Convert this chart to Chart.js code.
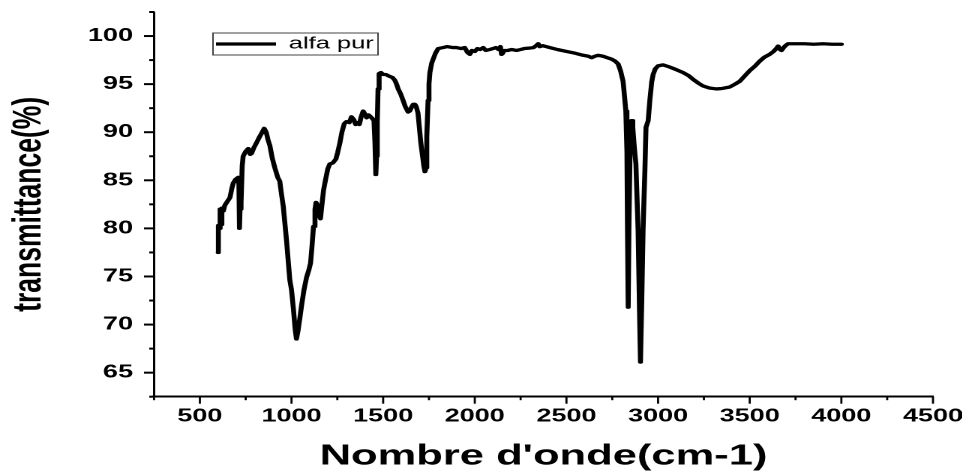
<!DOCTYPE html>
<html>
<head>
<meta charset="utf-8">
<script src="https://cdn.jsdelivr.net/npm/chart.js@4.4.0/dist/chart.umd.min.js"></script>
<style>
  html, body { margin: 0; padding: 0; background: #fff; overflow: hidden; }
  /* the original figure is stretched sideways, so draw narrow and stretch */
  #wrap { position: absolute; left: 0; top: 0; width: 641.33px; height: 472px;
          transform: scaleX(1.5); transform-origin: 0 0; }
</style>
</head>
<body>
<div id="wrap"><canvas id="chart"></canvas></div>
<script>
const seriesName = "alfa pur";

const wavenumbers = [
  600, 601, 605, 609, 612, 616, 620, 628, 636, 650, 664, 675, 682, 695, 709, 713, 716, 719, 722, 727,
  731, 736, 750, 764, 775, 782, 795, 809, 825, 840, 851, 862, 872, 882, 895, 909, 925, 936, 945, 955,
  964, 973, 982, 991, 1000, 1010, 1020, 1027, 1035, 1045, 1055, 1068, 1082, 1095, 1104, 1112, 1120, 1128, 1134, 1142,
  1150, 1158, 1165, 1175, 1185, 1198, 1209, 1225, 1242, 1252, 1264, 1275, 1288, 1300, 1315, 1327, 1340, 1350, 1360, 1370,
  1380, 1391, 1400, 1410, 1420, 1432, 1442, 1450, 1455, 1460, 1464, 1468, 1472, 1478, 1488, 1500, 1515, 1525, 1536, 1550,
  1564, 1575, 1582, 1595, 1609, 1620, 1636, 1645, 1655, 1664, 1673, 1680, 1690, 1705, 1715, 1722, 1728, 1734, 1738, 1745,
  1750, 1755, 1765, 1773, 1785, 1800, 1827, 1850, 1880, 1900, 1925, 1945, 1960, 1973, 1985, 2000, 2015, 2030, 2046, 2060,
  2082, 2100, 2115, 2130, 2140, 2146, 2152, 2160, 2180, 2200, 2228, 2250, 2270, 2300, 2320, 2335, 2346, 2355, 2370, 2390,
  2409, 2450, 2500, 2550, 2591, 2620, 2637, 2655, 2673, 2700, 2730, 2746, 2765, 2782, 2795, 2809, 2818, 2824, 2830, 2833,
  2837, 2841, 2847, 2855, 2862, 2870, 2879, 2891, 2899, 2904, 2911, 2918, 2928, 2934, 2946, 2955, 2965, 2973, 2985, 3000,
  3027, 3060, 3100, 3137, 3165, 3191, 3220, 3246, 3280, 3318, 3350, 3391, 3420, 3446, 3475, 3500, 3530, 3555, 3580, 3609,
  3630, 3645, 3655, 3665, 3673, 3685, 3695, 3709, 3750, 3800, 3850, 3900, 3950, 4000
];

const transmittance = [
  77.5, 80.3, 80.0, 81.0, 82.0, 80.4, 82.1, 81.8, 82.4, 82.8, 83.2, 84.2, 84.7, 85.1, 85.3, 84.6, 80.0, 82.0, 82.5, 82.6,
  86.5, 87.5, 88.0, 88.3, 87.7, 87.8, 88.4, 88.9, 89.5, 90.0, 90.4, 90.0, 89.2, 88.6, 87.3, 86.3, 85.3, 84.9, 83.6, 82.3,
  80.5, 78.7, 76.6, 74.6, 73.6, 71.7, 69.5, 68.5, 69.3, 70.6, 72.0, 73.6, 74.9, 75.7, 76.4, 78.2, 80.2, 82.0, 82.7, 82.4,
  81.4, 81.0, 82.3, 84.0, 85.0, 86.2, 86.7, 86.8, 87.2, 87.9, 88.9, 90.0, 90.9, 91.1, 91.0, 91.6, 91.3, 90.8, 91.0, 90.8,
  91.6, 92.2, 91.9, 91.5, 91.8, 91.6, 91.4, 91.2, 89.0, 85.6, 87.5, 91.0, 94.5, 96.1, 96.2, 96.0, 96.0, 95.9, 95.8, 95.7,
  95.4, 94.9, 94.5, 94.0, 93.3, 92.7, 92.1, 92.2, 92.6, 92.9, 92.9, 92.7, 92.0, 89.0, 87.5, 86.5, 85.9, 86.3, 89.5, 93.3,
  95.0, 96.2, 97.2, 97.6, 98.2, 98.7, 98.8, 98.9, 98.8, 98.8, 98.7, 98.8, 98.3, 98.1, 98.5, 98.4, 98.7, 98.6, 98.8, 98.5,
  98.6, 98.7, 98.8, 98.6, 98.9, 98.1, 98.2, 98.5, 98.5, 98.6, 98.5, 98.6, 98.7, 98.75, 98.8, 99.0, 99.2, 98.9, 99.0, 98.9,
  98.8, 98.6, 98.4, 98.2, 98.0, 97.9, 97.75, 97.9, 98.0, 97.9, 97.7, 97.6, 97.4, 97.1, 96.4, 95.3, 93.5, 92.2, 88.0, 80.0,
  71.8, 80.0, 88.0, 91.2, 90.5, 88.5, 86.7, 79.8, 71.0, 66.1, 72.5, 79.8, 86.0, 90.5, 91.2, 93.3, 95.2, 96.0, 96.6, 96.9,
  97.0, 96.8, 96.5, 96.2, 95.9, 95.5, 95.1, 94.8, 94.6, 94.5, 94.55, 94.7, 95.0, 95.3, 95.9, 96.4, 96.9, 97.4, 97.8, 98.1,
  98.4, 98.7, 98.96, 98.6, 98.5, 98.8, 99.0, 99.2, 99.2, 99.2, 99.15, 99.2, 99.15, 99.15
];

const xTickLabels = [500, 1000, 1500, 2000, 2500, 3000, 3500, 4000, 4500];
const yTickLabels = [65, 70, 75, 80, 85, 90, 95, 100];
const xMinorStep = 250;
const yMinorStep = 2.5;

Chart.defaults.font.family = "'Liberation Sans', Arial, sans-serif";
Chart.defaults.color = "#000";

// tick marks (major + minor) and the legend frame, Origin style
const originAxes = {
  id: "originAxes",
  afterLayout(chart) {
    const lg = chart.legend;
    const w = lg.width, h = lg.height;
    lg.left = 144; lg.top = 35.5;
    lg.right = lg.left + w; lg.bottom = lg.top + h;
  },
  afterDraw(chart) {
    const { ctx } = chart;
    const x = chart.scales.x, y = chart.scales.y;
    ctx.save();
    ctx.strokeStyle = "#000";

    ctx.lineWidth = 2;
    for (let v = y.min; v <= y.max + 1e-6; v += yMinorStep) {
      const py = y.getPixelForValue(v);
      const len = yTickLabels.includes(v) ? 6.7 : 3.2;
      ctx.beginPath();
      ctx.moveTo(y.right, py);
      ctx.lineTo(y.right - len, py);
      ctx.stroke();
    }

    ctx.lineWidth = 1.4;
    for (let v = x.min; v <= x.max + 1e-6; v += xMinorStep) {
      const px = x.getPixelForValue(v);
      const len = xTickLabels.includes(v) ? 7 : 3.5;
      ctx.beginPath();
      ctx.moveTo(px, x.top);
      ctx.lineTo(px, x.top + len);
      ctx.stroke();
    }

    ctx.strokeStyle = "#444";
    ctx.lineWidth = 1;
    ctx.strokeRect(142, 33, 110, 22);
    ctx.restore();
  }
};

new Chart(document.getElementById("chart"), {
  type: "line",
  data: {
    datasets: [{
      label: seriesName,
      data: wavenumbers.map((w, i) => ({ x: w, y: transmittance[i] })),
      borderColor: "#000",
      backgroundColor: "#000",
      borderWidth: 3.3,
      pointRadius: 0,
      tension: 0,
      borderJoinStyle: "round",
      borderCapStyle: "round"
    }]
  },
  options: {
    responsive: true,
    maintainAspectRatio: false,
    devicePixelRatio: 2,
    animation: false,
    layout: { padding: { left: 0, right: 19.3, top: 12, bottom: 0 } },
    plugins: {
      legend: {
        position: "chartArea",
        align: "start",
        labels: {
          usePointStyle: true,
          pointStyle: "line",
          pointStyleWidth: 40,
          padding: 0,
          font: { size: 17 }
        }
      },
      tooltip: { enabled: false }
    },
    scales: {
      x: {
        type: "linear",
        min: 250,
        max: 4500,
        afterBuildTicks: (axis) => { axis.ticks = xTickLabels.map(v => ({ value: v })); },
        afterFit: (scale) => {
          scale.height = 75.3;
          scale.paddingLeft = 0;
          scale.paddingRight = 0;
        },
        grid: { display: false, drawTicks: false },
        border: { display: true, color: "#000", width: 2 },
        ticks: {
          autoSkip: false,
          maxRotation: 0,
          padding: 9.2,
          callback: (v) => String(v),
          font: { size: 18, weight: "bold" }
        },
        title: {
          display: true,
          text: "Nombre d'onde(cm-1)",
          font: { size: 29, weight: "bold", lineHeight: 1 },
          padding: { top: 0, bottom: 0.8 }
        }
      },
      y: {
        min: 62.5,
        max: 102.5,
        afterBuildTicks: (axis) => { axis.ticks = yTickLabels.map(v => ({ value: v })); },
        afterFit: (scale) => {
          scale.width = 102.7;
          scale.paddingTop = 0;
          scale.paddingBottom = 0;
        },
        grid: { display: false, drawTicks: false },
        border: { display: true, color: "#000", width: 1.5 },
        ticks: {
          padding: 14,
          callback: (v) => String(v),
          font: { size: 18, weight: "bold" }
        },
        title: {
          display: true,
          text: "transmittance(%)",
          font: { size: 26.5, weight: "bold", lineHeight: 1 },
          padding: { top: 6.4, bottom: 0 }
        }
      }
    }
  },
  plugins: [originAxes]
});
</script>
</body>
</html>
